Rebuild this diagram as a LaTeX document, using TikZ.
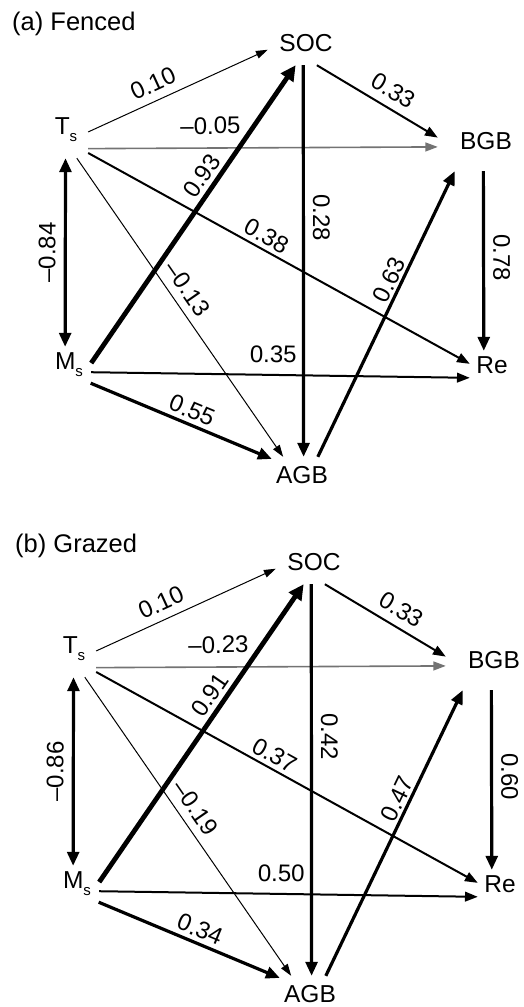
\documentclass[tikz,border=0pt]{standalone}
\usepackage{fontspec}
\setmainfont{Liberation Sans}
\usetikzlibrary{arrows.meta}

\newcommand{\lowsub}[1]{\raisebox{-7pt}{\fontsize{15}{15}\selectfont #1}}

\begin{document}
\begin{tikzpicture}[x=1pt, y=-1pt,
  >={Triangle[length=11pt 0.9, width=6pt 1.8]},
  var/.style={inner sep=0pt, font=\fontsize{24.5}{29}\selectfont},
  coef/.style={font=\fontsize{24}{28}\selectfont, sloped, allow upside down, inner sep=1pt},
  title/.style={anchor=base west, inner sep=0pt, font=\fontsize{25.5}{30}\selectfont},
  weak/.style={line width=1pt},
  faint/.style={line width=1.6pt, black!55},
  mid/.style={line width=2pt},
  strong/.style={line width=3.2pt},
  heavy/.style={line width=4.8pt}]
  \useasboundingbox (0,0) rectangle (523,1007);

  % (a) fenced plot
  \node[title] (tita) at (12,30) {(a) Fenced};
  \node[var, minimum width=44pt, minimum height=56pt] (Tsa) at (66,130) {T\lowsub{s}};
  \node[var, minimum width=44pt, minimum height=36pt] (Msa) at (69,365) {M\lowsub{s}};
  \node[var, minimum width=76pt, minimum height=44pt] (SOCa) at (306,43) {SOC};
  \node[var, minimum width=96pt, minimum height=60pt] (BGBa) at (486,141) {BGB};
  \node[var, minimum width=44pt, minimum height=28pt] (Rea) at (492,365) {Re};
  \node[var, minimum width=60pt, minimum height=36pt] (AGBa) at (302,475) {AGB};

  \draw[weak, ->] (Tsa.-5) -- node[coef, above=7pt, pos=0.4] {0.10} (SOCa.190);
  \draw[faint, ->] (Tsa.-40) -- node[coef, above=12pt, pos=0.35, black] {--0.05} (BGBa.187);
  \draw[mid, ->] (Tsa.-46) -- node[coef, above=3pt, pos=0.45] {0.38} (Rea.177);
  \draw[weak, ->] (Tsa.-69) -- node[coef, above=7pt, pos=0.47] {--0.13} (AGBa.136);
  \draw[strong, <->] (Msa.102) -- node[coef, above=7pt, pos=0.5] {--0.84} (Tsa.-91);
  \draw[heavy, ->] (Msa.5) -- node[coef, above=3pt, pos=0.6] {0.93} (SOCa.245);
  \draw[mid, ->] (Msa.-18) -- node[coef, above=10pt, pos=0.48] {0.35} (Rea.210);
  \draw[strong, ->] (Msa.-40) -- node[coef, above=3pt, pos=0.53] {0.55} (AGBa.152);
  \draw[strong, ->] (SOCa.263) -- node[coef, above=7pt, pos=0.39] {0.28} (AGBa.85);
  \draw[mid, ->] (SOCa.296) -- node[coef, above=7pt, pos=0.56] {0.33} (BGBa.176);
  \draw[strong, ->] (AGBa.49) -- node[coef, above=1pt, pos=0.6] {0.63} (BGBa.224);
  \draw[strong, ->] (BGBa.265) -- node[coef, above=7pt, pos=0.48] {0.78} (Rea.120);

  % (b) grazed plot
  \node[title] (titb) at (15,552) {(b) Grazed};
  \begin{scope}[shift={(8,519)}]
    \node[var, minimum width=44pt, minimum height=56pt] (Tsb) at (66,130) {T\lowsub{s}};
    \node[var, minimum width=44pt, minimum height=36pt] (Msb) at (69,365) {M\lowsub{s}};
    \node[var, minimum width=76pt, minimum height=44pt] (SOCb) at (306,43) {SOC};
    \node[var, minimum width=96pt, minimum height=60pt] (BGBb) at (486,141) {BGB};
    \node[var, minimum width=44pt, minimum height=28pt] (Reb) at (492,365) {Re};
    \node[var, minimum width=60pt, minimum height=36pt] (AGBb) at (302,475) {AGB};

    \draw[weak, ->] (Tsb.-5) -- node[coef, above=7pt, pos=0.4] {0.10} (SOCb.190);
    \draw[faint, ->] (Tsb.-40) -- node[coef, above=12pt, pos=0.35, black] {--0.23} (BGBb.187);
    \draw[mid, ->] (Tsb.-46) -- node[coef, above=3pt, pos=0.45] {0.37} (Reb.177);
    \draw[weak, ->] (Tsb.-69) -- node[coef, above=7pt, pos=0.47] {--0.19} (AGBb.136);
    \draw[strong, <->] (Msb.102) -- node[coef, above=7pt, pos=0.5] {--0.86} (Tsb.-91);
    \draw[heavy, ->] (Msb.5) -- node[coef, above=3pt, pos=0.6] {0.91} (SOCb.245);
    \draw[mid, ->] (Msb.-18) -- node[coef, above=10pt, pos=0.48] {0.50} (Reb.210);
    \draw[strong, ->] (Msb.-40) -- node[coef, above=3pt, pos=0.53] {0.34} (AGBb.152);
    \draw[strong, ->] (SOCb.263) -- node[coef, above=7pt, pos=0.39] {0.42} (AGBb.85);
    \draw[mid, ->] (SOCb.296) -- node[coef, above=7pt, pos=0.56] {0.33} (BGBb.176);
    \draw[strong, ->] (AGBb.49) -- node[coef, above=1pt, pos=0.6] {0.47} (BGBb.224);
    \draw[strong, ->] (BGBb.265) -- node[coef, above=7pt, pos=0.48] {0.60} (Reb.120);
  \end{scope}
\end{tikzpicture}
\end{document}
